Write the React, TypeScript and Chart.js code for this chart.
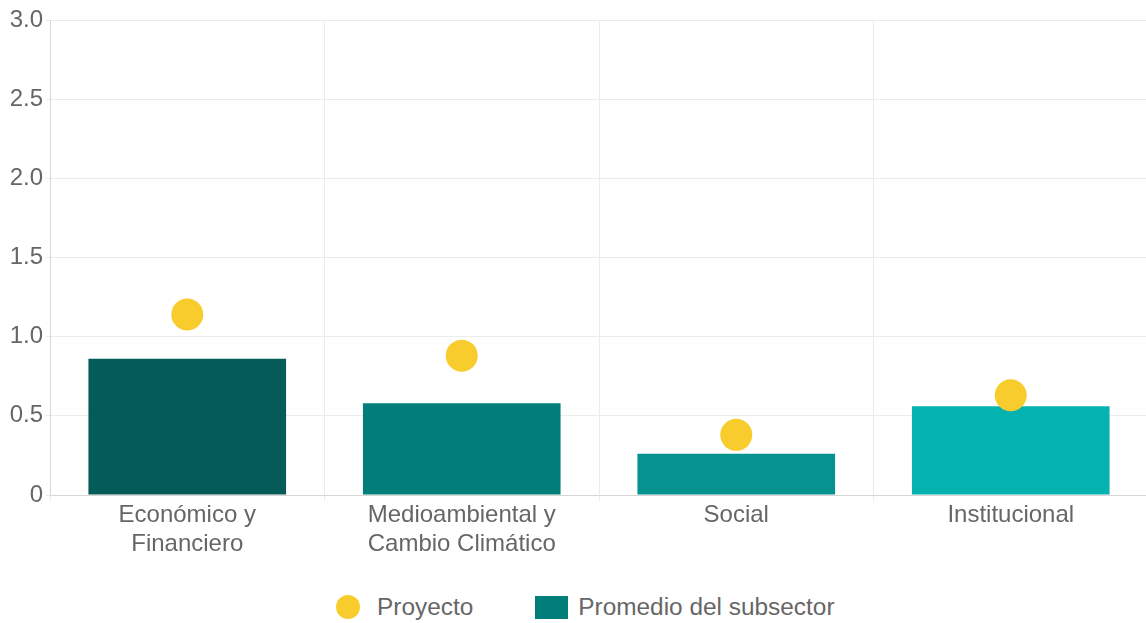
import React, { useEffect, useRef } from 'react';
import { Chart, registerables } from 'chart.js';

Chart.register(...registerables);

const categories: string[][] = [
  ['Económico y', 'Financiero'],
  ['Medioambiental y', 'Cambio Climático'],
  ['Social'],
  ['Institucional'],
];
const promedioSubsector = [0.86, 0.58, 0.26, 0.56];
const proyecto = [1.14, 0.88, 0.38, 0.63];
const barColors = ['#055B58', '#017E7A', '#05938F', '#04B2AF'];
const pointColor = '#F9CC2E';
const legendRectColor = '#017E7A';
const yTickValues = [0, 0.5, 1, 1.5, 2, 2.5, 3];
const legendLabels = ['Proyecto', 'Promedio del subsector'];

const FONT = "'Liberation Sans', Arial, sans-serif";
const TEXT = '#666666';
const CANVAS_W = 1164;
const CANVAS_H = 561;

export default function App() {
  const canvasRef = useRef<HTMLCanvasElement | null>(null);

  useEffect(() => {
    if (!canvasRef.current) return;
    const chart = new Chart(canvasRef.current, {
      type: 'bar',
      data: {
        labels: categories,
        datasets: [
          {
            type: 'line',
            label: legendLabels[0],
            data: proyecto,
            showLine: false,
            pointRadius: 16,
            pointHoverRadius: 16,
            pointBackgroundColor: pointColor,
            pointBorderColor: pointColor,
            pointBorderWidth: 0,
            order: 0,
          } as any,
          {
            type: 'bar',
            label: legendLabels[1],
            data: promedioSubsector,
            backgroundColor: barColors,
            borderWidth: 0,
            order: 1,
          },
        ],
      },
      options: {
        animation: false,
        responsive: false,
        maintainAspectRatio: false,
        devicePixelRatio: 1,
        layout: { padding: { top: 20, right: 2, left: 0, bottom: 0 } },
        plugins: {
          legend: { display: false },
          tooltip: { enabled: false },
        },
        scales: {
          x: {
            grid: { color: '#EBEBEB', tickLength: 6, drawTicks: true },
            border: { color: '#D6D6D6' },
            ticks: { color: TEXT, font: { family: FONT, size: 24 }, padding: 0, maxRotation: 0, autoSkip: false },
            afterFit: (scale: any) => { scale.height = 66; },
          },
          y: {
            min: 0,
            max: 3,
            grid: { color: '#EBEBEB', tickLength: 4, drawTicks: true },
            border: { color: '#D6D6D6' },
            afterBuildTicks: (scale: any) => {
              scale.ticks = yTickValues.map((v) => ({ value: v }));
            },
            ticks: {
              color: TEXT,
              font: { family: FONT, size: 24 },
              padding: 3,
              callback: (v: any) => (Number(v) === 0 ? '0' : Number(v).toFixed(1)),
            },
            afterFit: (scale: any) => { scale.width = 50; },
          },
        },
      },
    });
    return () => chart.destroy();
  }, []);

  return (
    <div style={{ position: 'absolute', left: 0, top: 0, width: 1146, height: 623, overflow: 'hidden', background: '#fff' }}>
      <canvas
        ref={canvasRef}
        width={CANVAS_W}
        height={CANVAS_H}
        style={{ position: 'absolute', left: 0, top: 0, width: CANVAS_W, height: CANVAS_H }}
      />
      <div
        style={{
          position: 'absolute',
          left: 336,
          top: 595,
          height: 24,
          display: 'flex',
          alignItems: 'center',
          fontFamily: FONT,
          fontSize: 24.4,
          lineHeight: '24px',
          color: TEXT,
          whiteSpace: 'nowrap',
        }}
      >
        <span style={{ width: 24, height: 24, borderRadius: '50%', background: pointColor, marginRight: 17, display: 'inline-block' }} />
        <span>{legendLabels[0]}</span>
        <span style={{ width: 33, height: 23, background: legendRectColor, marginLeft: 62, marginRight: 10, display: 'inline-block' }} />
        <span>{legendLabels[1]}</span>
      </div>
    </div>
  );
}
